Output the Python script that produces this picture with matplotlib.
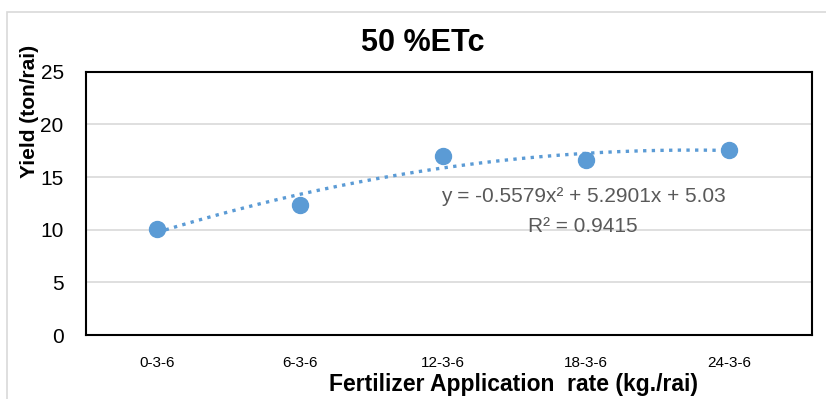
import numpy as np
import matplotlib
matplotlib.use("Agg")
import matplotlib.pyplot as plt
from matplotlib.patches import Rectangle

# data
rates = ["0-3-6", "6-3-6", "12-3-6", "18-3-6", "24-3-6"]
yields = [10.1, 12.4, 17.0, 16.6, 17.6]
poly_coef = [-0.5579, 5.2901, 5.03]
y_ticks = [0, 5, 10, 15, 20, 25]

blue = "#5B9BD5"
gray_text = "#595959"
font = "Liberation Sans"

fig = plt.figure(figsize=(8.26, 3.99), dpi=100)
ax = fig.add_axes([0.104, 0.160, 0.879, 0.660])

x = np.arange(1, len(rates) + 1)
xs = np.linspace(1, len(rates), 200)
ax.plot(xs, np.polyval(poly_coef, xs), linestyle=(0, (1, 1.6)), color=blue,
        linewidth=2.4, zorder=2)
ax.plot(x, yields, "o", color=blue, markersize=11.5, zorder=3)

ax.set_xlim(0.5, len(rates) + 0.58)
ax.set_ylim(0, 25)
ax.set_yticks(y_ticks)
ax.set_xticks(x)
ax.set_xticklabels(rates, family=font, fontsize=11)
ax.tick_params(axis="y", length=0, pad=16, labelsize=15)
ax.tick_params(axis="x", length=0, pad=15)
for lab in ax.get_yticklabels():
    lab.set_family(font)
ax.grid(axis="y", color="#d9d9d9", linewidth=1.2)
ax.set_axisbelow(True)
for sp in ax.spines.values():
    sp.set_linewidth(1.5)
    sp.set_color("black")

ax.text(3.98, 13.2, "y = -0.5579x² + 5.2901x + 5.03", ha="center", va="center",
        fontsize=15, color=gray_text, family=font)
ax.text(3.98, 10.3, "R² = 0.9415", ha="center", va="center",
        fontsize=15, color=gray_text, family=font)

fig.text(0.512, 0.893, "50 %ETc", ha="center", va="center", fontsize=22,
         fontweight="bold", family=font)
fig.text(0.036, 0.72, "Yield (ton/rai)", rotation=90, ha="center", va="center",
         fontsize=15, fontweight="bold", family=font)
fig.text(0.622, 0.02, "Fertilizer Application  rate (kg./rai)", ha="center",
         va="baseline", fontsize=16.5, fontweight="bold", family=font)

fig.patches.append(Rectangle((0.009, -0.1), 1.2, 1.07, transform=fig.transFigure,
                             fill=False, edgecolor="#d9d9d9", linewidth=1.2))

fig.savefig("out.png", dpi=100)
